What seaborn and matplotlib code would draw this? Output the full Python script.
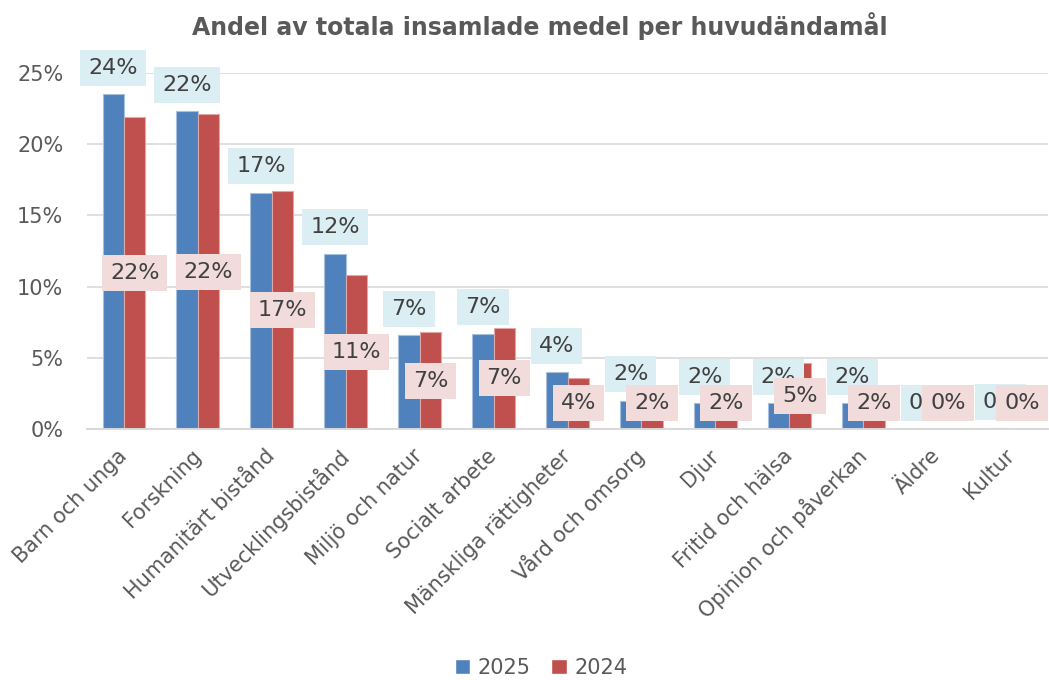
import matplotlib
matplotlib.use("Agg")
import matplotlib.pyplot as plt
import seaborn as sns
import pandas as pd
from matplotlib.patches import Patch

categories = ["Barn och unga", "Forskning", "Humanitärt bistånd", "Utvecklingsbistånd",
              "Miljö och natur", "Socialt arbete", "Mänskliga rättigheter", "Vård och omsorg",
              "Djur", "Fritid och hälsa", "Opinion och påverkan", "Äldre", "Kultur"]
v2025 = [23.5, 22.3, 16.6, 12.3, 6.6, 6.7, 4.0, 2.0, 1.8, 1.8, 1.8, 0.0, 0.05]
v2024 = [21.9, 22.1, 16.7, 10.8, 6.8, 7.1, 3.6, 2.0, 2.0, 4.6, 2.0, 0.0, 0.0]
series = ["2025", "2024"]
yticks = [0, 5, 10, 15, 20, 25]

sns.set_theme(style="white")
plt.rcParams["font.family"] = ["DejaVu Sans"]

df = pd.DataFrame({
    "kategori": categories * 2,
    "andel": v2025 + v2024,
    "år": [series[0]] * len(categories) + [series[1]] * len(categories),
})

blue = "#4F81BD"
red = "#C0504D"
grey = "#595959"
txt = "#404040"

fig = plt.figure(figsize=(10.49, 6.80), dpi=100)
ax = fig.add_axes([87 / 1049, 1 - 429 / 680, 961 / 1049, (429 - 73) / 680])

sns.barplot(data=df, x="kategori", y="andel", hue="år", hue_order=series,
            palette=[blue, red], width=0.58, ax=ax, legend=False, saturation=1)

for cont, ec in zip(ax.containers, ["#A7C0DE", "#DFA8A6"]):
    for p in cont:
        p.set_edgecolor(ec)
        p.set_linewidth(0.8)
        p.set_zorder(3)

ax.set_ylim(0, 25)
ax.set_xlim(-0.5, len(categories) - 0.5)
ax.set_yticks(yticks)
ax.set_yticklabels([f"{t}%" for t in yticks], color=grey, fontsize=15)
ax.tick_params(axis="y", length=0, pad=17)
ax.tick_params(axis="x", length=0, pad=17)
ax.set_xticks(range(len(categories)))
ax.set_xticklabels(categories, rotation=45, ha="right", va="center",
                   rotation_mode="anchor", color=grey, fontsize=15)
ax.set_xlabel("")
ax.set_ylabel("")
ax.yaxis.grid(True, color="#D9D9D9", linewidth=1.2)
ax.set_axisbelow(True)
for s in ["top", "right", "left"]:
    ax.spines[s].set_visible(False)
ax.spines["bottom"].set_color("#D9D9D9")
ax.spines["bottom"].set_linewidth(1.4)
ax.spines["bottom"].set_zorder(4)

# data labels
c25, c24 = ax.containers[0], ax.containers[1]
for p, v in zip(c25, v2025):
    x = p.get_x() + p.get_width() / 2
    ax.annotate(f"{round(v)}%", (x, v), xytext=(0, 19), textcoords="offset points",
                ha="center", va="center", fontsize=16, color=txt, zorder=6,
                annotation_clip=False,
                bbox=dict(boxstyle="square,pad=0.36", fc="#DAEEF3", ec="none"))
for p, v in zip(c24, v2024):
    x = p.get_x() + p.get_width() / 2
    ax.annotate(f"{round(v)}%", (x, max(v / 2, 1.85)),
                ha="center", va="center", fontsize=16, color=txt, zorder=7,
                annotation_clip=False,
                bbox=dict(boxstyle="square,pad=0.36", fc="#F2DCDB", ec="none"))

fig.text(540 / 1049, 1 - 26 / 680, "Andel av totala insamlade medel per huvudändamål",
         ha="center", va="center", fontsize=17, fontweight="bold", color=grey)

handles = [Patch(facecolor=blue, label=series[0]), Patch(facecolor=red, label=series[1])]
fig.legend(handles=handles, loc="center", bbox_to_anchor=(541 / 1049, 1 - 668 / 680),
           ncol=2, frameon=False, fontsize=15, handlelength=0.75, handleheight=0.75,
           handletextpad=0.35, columnspacing=1.0, labelcolor=grey)

fig.savefig("out.png", dpi=100)
